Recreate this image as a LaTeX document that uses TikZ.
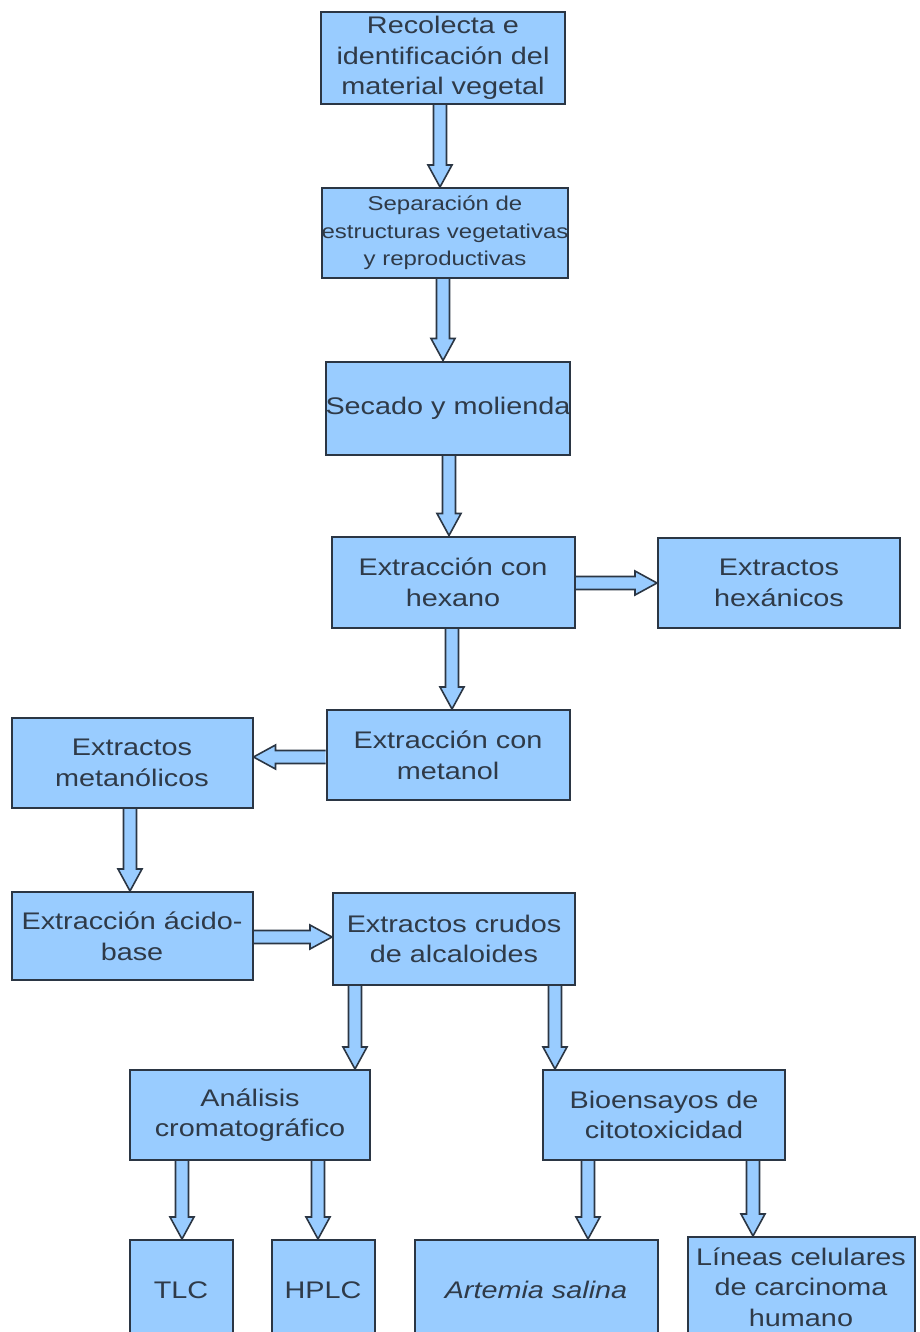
\documentclass[tikz,border=0pt]{standalone}
\usepackage{fontspec}
\setmainfont{Liberation Sans}[FakeStretch=1.2]
\usetikzlibrary{calc}
\definecolor{boxfill}{HTML}{99CCFF}
\definecolor{edge}{HTML}{2B3644}
\definecolor{txt}{HTML}{2F3A48}
\pgfdeclarelayer{back}
\pgfdeclarelayer{bg}
\pgfsetlayers{back,bg,main}
% vertical (down) block arrow: x(px), from, to
\newcommand\darr[3]{%
  \draw[arr] let \p1=(#2.south), \p2=(#3.north), \p3=(#1,0) in
  ({\x3-4.9pt},\y1) -- ({\x3-4.9pt},{\y2+16.5pt}) -- ({\x3-9pt},{\y2+16.5pt}) --
  (\x3,\y2) -- ({\x3+9pt},{\y2+16.5pt}) -- ({\x3+4.9pt},{\y2+16.5pt}) -- ({\x3+4.9pt},\y1);}
% rightward block arrow: y(px), from, to
\newcommand\rarr[3]{%
  \draw[arr] let \p1=(#2.east), \p2=(#3.west), \p3=(0,#1) in
  (\x1,{\y3+4.9pt}) -- ({\x2-16.5pt},{\y3+4.9pt}) -- ({\x2-16.5pt},{\y3+9pt}) --
  (\x2,\y3) -- ({\x2-16.5pt},{\y3-9pt}) -- ({\x2-16.5pt},{\y3-4.9pt}) -- (\x1,{\y3-4.9pt});}
% leftward block arrow: y(px), from, to
\newcommand\larr[3]{%
  \draw[arr] let \p1=(#2.west), \p2=(#3.east), \p3=(0,#1) in
  (\x1,{\y3+4.9pt}) -- ({\x2+16.5pt},{\y3+4.9pt}) -- ({\x2+16.5pt},{\y3+9pt}) --
  (\x2,\y3) -- ({\x2+16.5pt},{\y3-9pt}) -- ({\x2+16.5pt},{\y3-4.9pt}) -- (\x1,{\y3-4.9pt});}
\begin{document}
\begin{tikzpicture}[x=0.75pt,y=-0.75pt,
  box/.style={draw=edge, line width=1.5pt, fill=boxfill, text=txt, align=center,
    inner sep=0pt, font=\fontsize{18}{23}\selectfont},
  bx/.style 2 args={minimum width=#1*0.75pt, minimum height=#2*0.75pt},
  arr/.style={draw=edge, line width=1.2pt, fill=boxfill, line join=miter}]
\useasboundingbox (0,0) rectangle (920,1332);
\begin{pgfonlayer}{back}
\fill[white] (0,0) rectangle (920,1332);
\end{pgfonlayer}
\clip (0,0) rectangle (920,1332);

\node[box,bx={244}{92}] (n1) at (443,58) {Recolecta e\\identificación del\\material vegetal};
\node[box,bx={244}{90},font=\fontsize{15}{20.6}\selectfont] (n2) at (445,233) {Separación de\\estructuras vegetativas\\y reproductivas};
\node[box,bx={243}{93}] (n3) at (448,408) {Secado y molienda};
\node[box,bx={243}{91}] (n4) at (453,582) {Extracción con\\hexano};
\node[box,bx={242}{90}] (n5) at (779,583) {Extractos\\hexánicos};
\node[box,bx={243}{90}] (n6) at (448,755) {Extracción con\\metanol};
\node[box,bx={241}{90}] (n7) at (132,763) {Extractos\\metanólicos};
\node[box,bx={241}{88}] (n8) at (132,936) {Extracción ácido-\\base};
\node[box,bx={242}{92}] (n9) at (454,939) {Extractos crudos\\de alcaloides};
\node[box,bx={240}{90}] (n10) at (250,1115) {Análisis\\cromatográfico};
\node[box,bx={242}{90}] (n11) at (664,1115) {Bioensayos de\\citotoxicidad};
\node[box,bx={103}{100}] (n12) at (181,1290) {TLC};
\node[box,bx={103}{100}] (n13) at (323,1290) {HPLC};
\node[box,bx={243}{100}] (n14) at (536,1290) {\itshape Artemia salina};
\node[box,bx={227}{100}] (n15) at (801,1287) {Líneas celulares\\de carcinoma\\humano};

\begin{pgfonlayer}{bg}
\darr{440}{n1}{n2}
\darr{443}{n2}{n3}
\darr{449}{n3}{n4}
\rarr{583}{n4}{n5}
\darr{452}{n4}{n6}
\larr{757}{n6}{n7}
\darr{130}{n7}{n8}
\rarr{937}{n8}{n9}
\darr{355}{n9}{n10}
\darr{555}{n9}{n11}
\darr{182}{n10}{n12}
\darr{318}{n10}{n13}
\darr{588}{n11}{n14}
\darr{753}{n11}{n15}
\end{pgfonlayer}
\end{tikzpicture}
\end{document}
